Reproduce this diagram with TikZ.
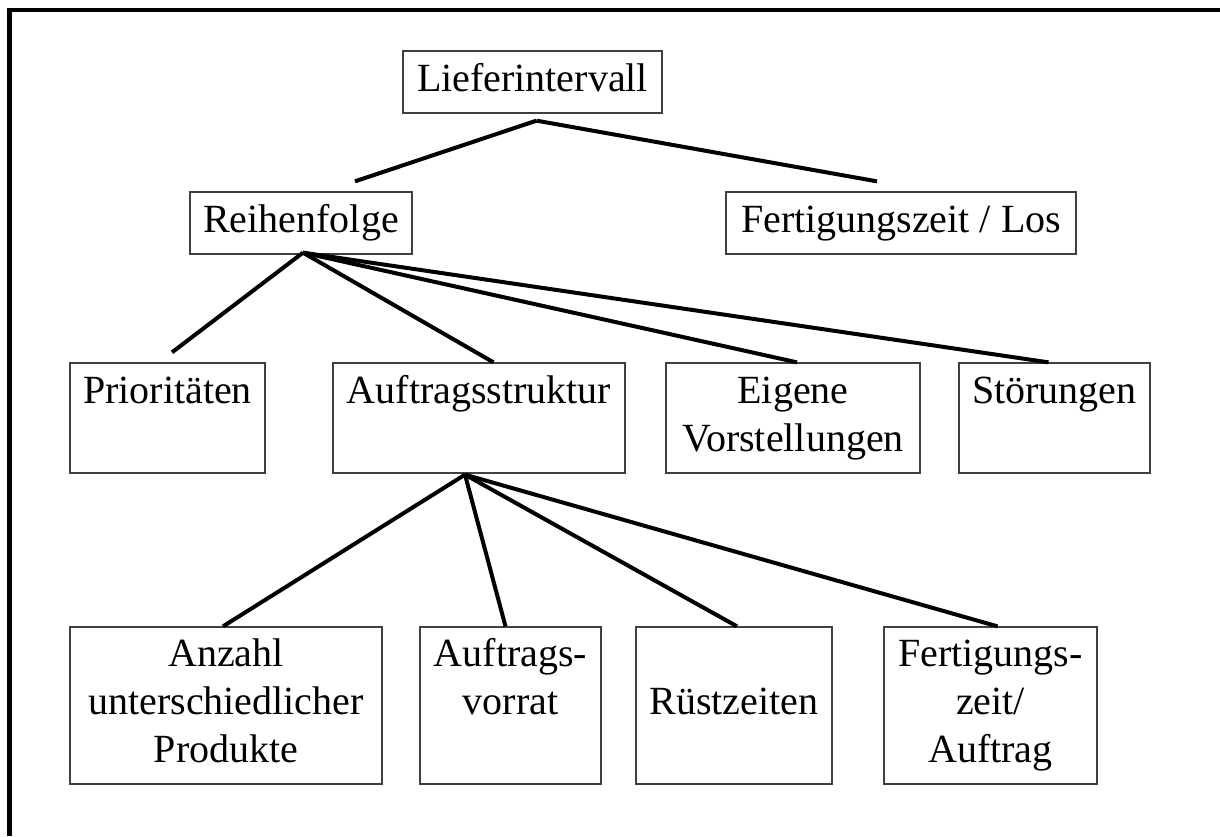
\documentclass[tikz,border=0pt]{standalone}
\usepackage{fontspec}
\setmainfont{Liberation Serif}
\usepackage{tikz}

\newcommand{\lstrut}{\rule[-10pt]{0pt}{38pt}}

\begin{document}
\begin{tikzpicture}[x=1pt, y=-1pt,
    box/.style={draw=black!75, line width=1.3pt, align=center, inner sep=0pt,
        font=\fontsize{40}{48}\selectfont},
    conn/.style={line width=4pt}]
            \useasboundingbox (0,0) rectangle (1220,836);

            % Frame along top and left
            \draw[line width=4.5pt] (9.5,836) -- (9.5,10) -- (1220,10);

            % Top levels
            \node[box, minimum width=259, minimum height=62] (lief) at (532.5,82) {\lstrut Lieferintervall};
            \node[box, minimum width=222, minimum height=62] (reihe) at (301,223) {\lstrut Reihenfolge};
            \node[box, minimum width=350, minimum height=62] (fzlos) at (901,223) {\lstrut Fertigungszeit / Los};

            % Middle level
            \node[box, minimum width=195, minimum height=110] (prio) at (167.5,418) {\lstrut Prioritäten\\\lstrut};
            \node[box, minimum width=292, minimum height=110] (astr) at (479,418) {\lstrut Auftragsstruktur\\\lstrut};
            \node[box, minimum width=254, minimum height=110] (eigen) at (793,418) {\lstrut Eigene\\\lstrut Vorstellungen};
            \node[box, minimum width=191, minimum height=110] (stoer) at (1054.5,418) {\lstrut Störungen\\\lstrut};

            % Bottom level
            \node[box, minimum width=312, minimum height=157] (anz) at (226,705.5) {\lstrut Anzahl\\\lstrut unterschiedlicher\\\lstrut Produkte};
            \node[box, minimum width=181, minimum height=157] (vorr) at (510.5,705.5) {\lstrut Auftrags-\\\lstrut vorrat\\\lstrut};
            \node[box, minimum width=196, minimum height=157] (ruest) at (734,705.5) {\lstrut\\\lstrut Rüstzeiten\\\lstrut};
            \node[box, minimum width=213, minimum height=157] (fzauf) at (990.5,705.5) {\lstrut Fertigungs-\\\lstrut zeit/\\\lstrut Auftrag};

            % Fork points
            \coordinate (lapex) at ([xshift=4pt,yshift=-7pt]lief.south);
            \coordinate (rapex) at ([xshift=2pt,yshift=2pt]reihe.south);
            \coordinate (aapex) at ([xshift=-14pt,yshift=-1pt]astr.south);

            % Edges
            \draw[conn] (lapex) -- ([xshift=54pt,yshift=10pt]reihe.north);
            \draw[conn] (lapex) -- ([xshift=-24pt,yshift=10pt]fzlos.north);
            \draw[conn] (rapex) -- ([xshift=4.5pt,yshift=10pt]prio.north);
            \foreach \c/\dx in {astr/14.5, eigen/4, stoer/-6}
            \draw[conn] (rapex) -- ([xshift=\dx pt]\c.north);
            \foreach \c/\dx in {anz/-3, vorr/-5, ruest/3, fzauf/7}
            \draw[conn] (aapex) -- ([xshift=\dx pt]\c.north);
        \end{tikzpicture}
\end{document}
